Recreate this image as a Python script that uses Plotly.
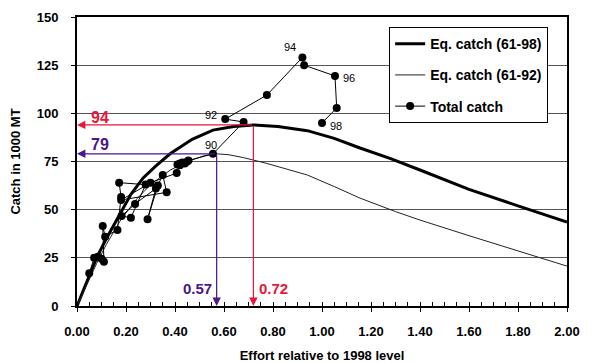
import plotly.graph_objects as go

# Equilibrium catch curves
eq98_x = [0.0, 0.04, 0.08, 0.12, 0.175, 0.22, 0.27, 0.32, 0.38, 0.47, 0.555, 0.64, 0.72, 0.82, 0.94, 1.05, 1.155, 1.28, 1.4, 1.6, 1.8, 2.0]
eq98_y = [0.0, 13.0, 25.0, 35.0, 48.0, 58.0, 66.5, 72.5, 79.0, 86.5, 91.3, 93.2, 94.0, 93.2, 91.0, 87.0, 82.0, 76.5, 70.6, 60.5, 52.0, 43.6]
eq92_x = [0.0, 0.04, 0.08, 0.12, 0.18, 0.24, 0.3, 0.38, 0.45, 0.52, 0.57, 0.62, 0.68, 0.775, 0.94, 1.05, 1.155, 1.3, 1.4, 1.6, 1.8, 2.0]
eq92_y = [0.0, 11.0, 22.0, 32.0, 45.0, 55.0, 63.0, 70.5, 75.0, 78.0, 79.0, 78.5, 77.0, 74.0, 68.0, 62.0, 56.0, 49.0, 44.6, 36.5, 28.5, 20.7]

# Total catch, 1961-1998
years = list(range(1961, 1999))
tc_x = [0.05, 0.07, 0.10, 0.085, 0.11, 0.105, 0.115, 0.165, 0.18, 0.172, 0.28, 0.22, 0.182, 0.237,
        0.322, 0.288, 0.33, 0.35, 0.366, 0.18, 0.30, 0.407, 0.42, 0.41, 0.43, 0.45, 0.44, 0.42, 0.455,
        0.555, 0.68, 0.605, 0.775, 0.92, 0.927, 1.053, 1.06, 1.0]
tc_y = [17.0, 25.0, 24.5, 25.5, 23.0, 41.5, 36.0, 39.5, 56.6, 64.0, 63.0, 45.8, 46.7, 53.0,
        61.0, 45.0, 62.5, 68.0, 59.0, 55.0, 64.0, 69.0, 74.0, 73.5, 74.5, 75.0, 74.0, 73.0, 75.5,
        79.0, 95.5, 97.0, 109.5, 129.0, 125.0, 119.4, 102.8, 95.0]
label_years = [1990, 1992, 1994, 1996, 1998]
label_text = ["90", "92", "94", "96", "98"]
label_dx = [-2, -14, -12, 14, 14]
label_dy = [9, 4, 10, -2, -3]

# MSY reference values
msy98_effort, msy98_catch = 0.72, 94
msy92_effort, msy92_catch = 0.57, 79

x_ticks = [0.0, 0.2, 0.4, 0.6, 0.8, 1.0, 1.2, 1.4, 1.6, 1.8, 2.0]
x_tick_labels = ["0.00", "0.20", "0.40", "0.60", "0.80", "1.00", "1.20", "1.40", "1.60", "1.80", "2.00"]
y_ticks = [0, 25, 50, 75, 100, 125, 150]

RED = "#e8173a"
PURPLE = "#4a168c"
FONT = "Liberation Sans, Arial, sans-serif"

fig = go.Figure()
fig.add_trace(go.Scatter(x=eq98_x, y=eq98_y, mode="lines", name="<b>Eq. catch (61-98)</b>",
                         line=dict(color="black", width=3), legendgroup="a"))
fig.add_trace(go.Scatter(x=eq92_x, y=eq92_y, mode="lines", name="<b>Eq. catch (61-92)</b>",
                         line=dict(color="#222", width=1), legendgroup="b"))
fig.add_trace(go.Scatter(x=tc_x, y=tc_y, mode="lines+markers", name="<b>Total catch</b>",
                         line=dict(color="black", width=1), marker=dict(color="black", size=8),
                         legendgroup="c"))

anns = []
for yr, t, dx, dy in zip(label_years, label_text, label_dx, label_dy):
    i = years.index(yr)
    anns.append(dict(x=tc_x[i], y=tc_y[i], text=t, showarrow=False, xshift=dx, yshift=dy,
                     font=dict(family=FONT, size=11, color="black")))

def arrow(x, y, ax, ay, color):
    return dict(x=x, y=y, ax=ax, ay=ay, xref="x", yref="y", axref="x", ayref="y", text="",
                showarrow=True, arrowhead=2, arrowsize=1.4, arrowwidth=1.2, arrowcolor=color, standoff=0)

anns += [
    arrow(0, msy98_catch, msy98_effort, msy98_catch, RED),
    arrow(msy98_effort, 0, msy98_effort, msy98_catch, RED),
    arrow(0, msy92_catch, msy92_effort, msy92_catch, PURPLE),
    arrow(msy92_effort, 0, msy92_effort, msy92_catch, PURPLE),
    dict(x=0.05, y=msy98_catch, text=f"<b>{msy98_catch}</b>", showarrow=False, xanchor="left", yanchor="bottom",
         yshift=-3, font=dict(family=FONT, size=16, color=RED)),
    dict(x=0.05, y=msy92_catch, text=f"<b>{msy92_catch}</b>", showarrow=False, xanchor="left", yanchor="bottom",
         yshift=-1, font=dict(family=FONT, size=16, color=PURPLE)),
    dict(x=msy98_effort, y=9, text=f"<b>{msy98_effort:.2f}</b>", showarrow=False, xanchor="left", xshift=4,
         font=dict(family=FONT, size=15, color=RED)),
    dict(x=msy92_effort, y=9, text=f"<b>{msy92_effort:.2f}</b>", showarrow=False, xanchor="right", xshift=-3,
         font=dict(family=FONT, size=15, color=PURPLE)),
]

fig.update_layout(
    width=584, height=355,
    margin=dict(l=69, r=25, t=9, b=57),
    paper_bgcolor="white", plot_bgcolor="white",
    font=dict(family=FONT, size=13, color="black"),
    showlegend=True,
    legend=dict(x=0.637, y=0.965, xanchor="left", yanchor="top", bgcolor="white",
                bordercolor="black", borderwidth=1, font=dict(family=FONT, size=14, color="black"),
                tracegroupgap=10, itemwidth=30),
    annotations=anns,
    xaxis=dict(range=[0, 2.0], tickvals=x_ticks, ticktext=[f"<b>{t}</b>" for t in x_tick_labels],
               showgrid=False, zeroline=False, showline=True, linecolor="black", linewidth=2, mirror=True,
               ticks="outside", ticklen=4, tickcolor="black", automargin=False, ticklabelstandoff=8,
               minor=dict(dtick=0.05, ticks="inside", ticklen=4, tickcolor="black", showgrid=False),
               title=dict(text="<b>Effort relative to 1998 level</b>", standoff=20,
                          font=dict(family=FONT, size=13)),
               tickfont=dict(family=FONT, size=13)),
    yaxis=dict(range=[0, 150], tickvals=y_ticks, ticktext=[f"<b>{v}</b>" for v in y_ticks],
               showgrid=True, gridcolor="#555", gridwidth=1, zeroline=False,
               showline=True, linecolor="black", linewidth=2, mirror=True,
               ticks="outside", ticklen=4, tickcolor="black", automargin=False, ticklabelstandoff=10,
               title=dict(text="<b>Catch in 1000 MT</b>", standoff=18, font=dict(family=FONT, size=13)),
               tickfont=dict(family=FONT, size=13)),
)

fig.write_html("out.html")
